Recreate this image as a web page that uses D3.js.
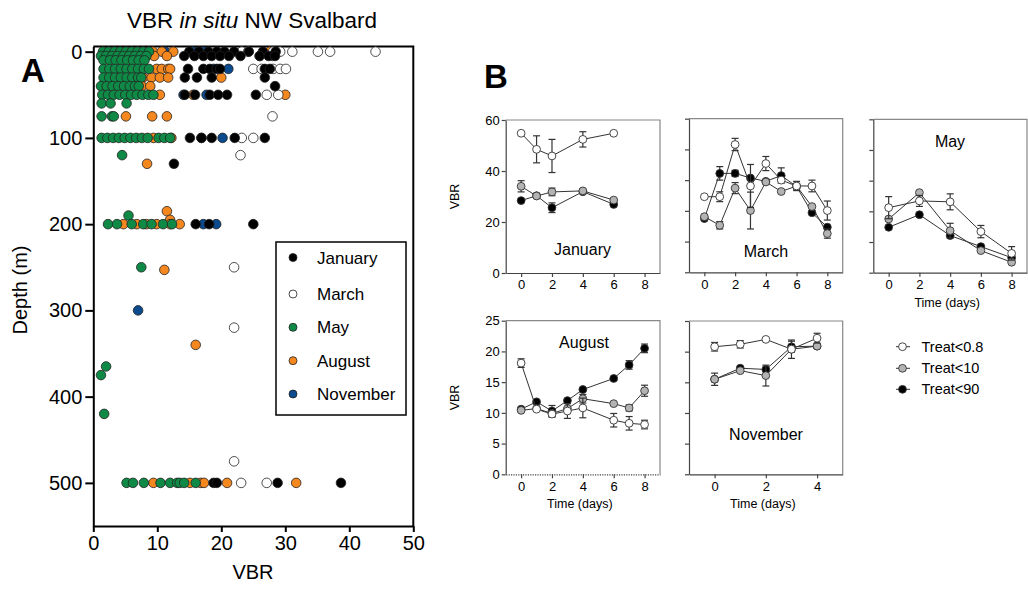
<!DOCTYPE html>
<html>
<head>
<meta charset="utf-8">
<script src="https://cdn.jsdelivr.net/npm/d3@7"></script>
<style>
  body { margin: 0; background: #fff; }
  text { font-family: "Liberation Sans", Arial, sans-serif; fill: #000; }
</style>
</head>
<body>
<script>

// ---- Panel A: in situ VBR, [depth (m), VBR] ----
const janA = [
  [0, 15.0], [0, 16.5], [0, 18.0], [0, 19.3], [0, 20.5], [0, 22.0], [0, 24.3], [0, 26.5], [0, 28.5],
  [5, 14.2], [5, 15.8], [5, 17.2], [5, 18.5], [5, 19.8], [5, 21.2], [5, 23.0], [5, 26.0], [5, 27.4], [5, 28.4],
  [20, 14.8], [20, 17.2], [20, 18.2], [20, 19.3], [20, 19.8], [20, 26.8], [20, 27.6],
  [30, 14.3], [30, 16.2], [30, 18.5], [30, 26.8],
  [40, 28.4],
  [50, 14.3], [50, 15.9], [50, 18.2], [50, 19.5], [50, 20.9], [50, 25.4],
  [100, 15.1], [100, 16.9], [100, 18.5], [100, 22.1], [100, 26.8],
  [130, 12.6],
  [200, 16.0], [200, 18.1], [200, 25.0],
  [500, 18.8], [500, 19.3], [500, 28.8], [500, 38.7]
];
const marA = [
  [0, 23.2], [0, 24.2], [0, 28.1], [0, 29.2], [0, 31.1], [0, 35.1], [0, 37.0], [0, 44.1],
  [5, 26.0], [5, 28.0],
  [20, 25.0], [20, 26.3], [20, 28.1], [20, 29.2], [20, 30.1],
  [50, 27.1], [50, 28.9],
  [75, 28.0],
  [100, 23.2], [100, 25.0],
  [120, 23.0],
  [250, 22.0],
  [320, 22.0],
  [475, 22.0],
  [500, 23.1], [500, 27.1]
];
const mayA = [
  [0, 1.5], [0, 2.4], [0, 3.3], [0, 4.2], [0, 5.1], [0, 6.0], [0, 6.9], [0, 7.8], [0, 8.7],
  [5, 1.2], [5, 2.0], [5, 2.9], [5, 3.8], [5, 4.7], [5, 5.6], [5, 6.5], [5, 7.4], [5, 8.3],
  [10, 1.6], [10, 2.6], [10, 3.5], [10, 4.4], [10, 5.3], [10, 6.2], [10, 7.1], [10, 8.0],
  [20, 1.6], [20, 2.5], [20, 3.4], [20, 4.3], [20, 5.2], [20, 6.1], [20, 7.0], [20, 7.9], [20, 8.7],
  [30, 1.6], [30, 2.5], [30, 3.4], [30, 4.3], [30, 5.2], [30, 6.1], [30, 7.0], [30, 7.5],
  [40, 1.2], [40, 2.1], [40, 3.0], [40, 3.9], [40, 4.8], [40, 5.7], [40, 6.5], [40, 7.1],
  [50, 1.4], [50, 2.3], [50, 3.2], [50, 4.1], [50, 5.0], [50, 5.9], [50, 6.8], [50, 7.7], [50, 8.6], [50, 9.4],
  [60, 1.3], [60, 2.7], [60, 5.2],
  [75, 1.3], [75, 2.9], [75, 3.2],
  [100, 1.3], [100, 2.2], [100, 3.1], [100, 4.0], [100, 4.9], [100, 5.8], [100, 6.7], [100, 7.6], [100, 8.5], [100, 10.2], [100, 11.1], [100, 12.0],
  [120, 4.5],
  [190, 5.5],
  [200, 2.3], [200, 3.7], [200, 6.0], [200, 7.8], [200, 9.1], [200, 10.9], [200, 12.3],
  [250, 7.5],
  [365, 2.0], [375, 1.2], [420, 1.7],
  [500, 5.2], [500, 6.2], [500, 7.9], [500, 10.5], [500, 12.0], [500, 13.1], [500, 13.5], [500, 14.2], [500, 16.0]
];
const augA = [
  [0, 9.3], [0, 10.7], [0, 12.5], [0, 27.6],
  [5, 8.0], [5, 9.5], [5, 11.5],
  [20, 9.9], [20, 10.7], [20, 11.7], [20, 12.0],
  [30, 7.8], [30, 9.1], [30, 10.4], [30, 11.7], [30, 20.0],
  [40, 7.6], [40, 8.9],
  [50, 10.4], [50, 15.6], [50, 30.0],
  [75, 5.1], [75, 9.2], [75, 11.5],
  [100, 9.4], [100, 12.2],
  [130, 8.4],
  [185, 11.5], [195, 12.0],
  [200, 4.7], [200, 6.8], [200, 8.3], [200, 9.9], [200, 12.0], [200, 13.5],
  [253, 11.1],
  [340, 16.0],
  [500, 9.4], [500, 15.1], [500, 16.8], [500, 17.3], [500, 20.9], [500, 31.7]
];
const novA = [
  [0, 11.2], [0, 15.6], [0, 17.2],
  [20, 18.8], [20, 21.1],
  [50, 14.1], [50, 17.7],
  [100, 16.9], [100, 20.2],
  [200, 17.2], [200, 19.2],
  [300, 7.0]
];
const monthsA = ['January', 'March', 'May', 'August', 'November'];
const depthTicks = [0, 100, 200, 300, 400, 500];
const vbrTicks = [0, 10, 20, 30, 40, 50];

// ---- Panel B: incubations, mean VBR with error ----
const treatments = ['Treat<0.8', 'Treat<10', 'Treat<90'];

const janDays = [0, 1, 2, 4, 6];
const janT08 = [54.8, 48.5, 45.9, 52.4, 54.8], janT08Err = [0, 5.3, 6.5, 3.0, 0];
const janT10 = [34.0, 30.2, 31.8, 32.2, 28.6], janT10Err = [2.2, 0, 1.5, 0, 0];
const janT90 = [28.4, 30.3, 25.6, 31.9, 26.9], janT90Err = [0, 0, 1.9, 0, 0];

const marDays = [0, 1, 2, 3, 4, 5, 6, 7, 8];
const marT08 = [24.6, 24.6, 41.6, 28.1, 35.4, 30.0, 28.1, 28.1, 20.1], marT08Err = [0, 1.6, 2.0, 7.0, 2.3, 0, 1.5, 1.9, 3.1];
const marT10 = [18.1, 15.3, 27.4, 20.1, 29.4, 26.3, 28.1, 21.4, 12.6], marT10Err = [0, 1.2, 1.8, 6.0, 0, 0, 0, 0, 1.5];
const marT90 = [17.5, 32.2, 32.2, 30.7, 29.6, 31.5, 27.9, 19.4, 14.7], marT90Err = [0, 2.2, 1.0, 0, 0, 2.5, 0, 0, 0];

const mayDays = [0, 2, 4, 6, 8];
const mayT08 = [21.2, 23.4, 23.1, 13.4, 6.3], mayT08Err = [3.6, 1.8, 2.6, 2.0, 2.2];
const mayT10 = [17.5, 26.1, 13.7, 7.2, 3.4], mayT10Err = [0, 0, 2.4, 0, 0];
const mayT90 = [14.8, 18.9, 12.1, 8.5, 4.9], mayT90Err = [0, 0, 0, 0, 0];

const augDays = [0, 1, 2, 3, 4, 6, 7, 8];
const augT08 = [18.1, 10.6, 9.8, 10.3, 10.8, 8.8, 8.3, 8.1], augT08Err = [0.7, 0, 0.5, 1.2, 1.6, 1.1, 1.1, 0.7];
const augT10 = [10.4, 10.7, 9.9, 10.7, 12.3, 11.5, 10.8, 13.6], augT10Err = [0, 0, 0, 0, 0.7, 0, 0.5, 0.9];
const augT90 = [10.6, 11.8, 10.3, 12.0, 13.8, 15.6, 17.8, 20.5], augT90Err = [0, 0, 0.9, 0, 0, 0, 0.7, 0.7];

const novDays = [0, 1, 2, 3, 4];
const novT08 = [20.8, 21.2, 22.0, 20.4, 22.2], novT08Err = [0.7, 0.6, 0, 0, 0.8];
const novT10 = [15.5, 16.9, 16.1, 20.4, 20.9], novT10Err = [0, 0, 1.7, 1.5, 0];
const novT90 = [15.5, 17.3, 17.1, 20.8, 20.9], novT90Err = [1.0, 0, 0, 0.9, 0];


const WIDTH = 1028, HEIGHT = 590;
const svg = d3.select('body').append('svg')
  .attr('width', WIDTH)
  .attr('height', HEIGHT);

// ================= Panel A =================
const monthFill = {
  January: '#000',
  March: '#fff',
  May: '#0f8a46',
  August: '#f5871f',
  November: '#0b4a8c'
};
const monthData = { January: janA, March: marA, May: mayA, August: augA, November: novA };

const xA = d3.scaleLinear().domain([0, 50]).range([93.3, 413.3]);
const yA = d3.scaleLinear().domain([-6, 550]).range([46.5, 526]);

const gA = svg.append('g');

// frame top / right
gA.append('path')
  .attr('d', `M${xA(0)},${yA(-6)}H${xA(50)}V${yA(550)}`)
  .attr('fill', 'none').attr('stroke', '#000').attr('stroke-width', 2);

// points, drawn bottom-up: November first, January last
monthsA.slice().reverse().forEach((m) => {
  gA.append('g').selectAll('circle')
    .data(monthData[m])
    .enter().append('circle')
      .attr('cx', (d) => xA(d[1]))
      .attr('cy', (d) => yA(d[0]))
      .attr('r', 4.8)
      .attr('fill', monthFill[m])
      .attr('stroke', '#222')
      .attr('stroke-width', 0.8);
});

const axA_y = gA.append('g')
  .attr('transform', `translate(${xA(0)},0)`)
  .call(d3.axisLeft(yA).tickValues(depthTicks).tickSize(8).tickSizeOuter(0).tickPadding(3));
const axA_x = gA.append('g')
  .attr('transform', `translate(0,${yA(550)})`)
  .call(d3.axisBottom(xA).tickValues(vbrTicks).tickSize(6).tickSizeOuter(0).tickPadding(4));
[axA_y, axA_x].forEach((ax) => {
  ax.select('.domain').attr('stroke-width', 2);
  ax.selectAll('.tick line').attr('stroke-width', 2);
  ax.selectAll('.tick text').style('font-size', '20px').attr('fill', '#000');
});

gA.append('text')
  .attr('x', 253).attr('y', 579)
  .attr('text-anchor', 'middle').style('font-size', '20px')
  .text('VBR');

gA.append('text')
  .attr('transform', 'translate(27,290) rotate(-90)')
  .attr('text-anchor', 'middle').style('font-size', '20px')
  .text('Depth (m)');

const title = gA.append('text')
  .attr('x', 252).attr('y', 28)
  .attr('text-anchor', 'middle').style('font-size', '22.5px');
title.append('tspan').text('VBR ');
title.append('tspan').style('font-style', 'italic').text('in situ');
title.append('tspan').text(' NW Svalbard');

// legend A
const legA = gA.append('g');
legA.append('rect')
  .attr('x', 276).attr('y', 242).attr('width', 130).attr('height', 173)
  .attr('fill', '#fff').attr('stroke', '#000').attr('stroke-width', 1.5);
const legRows = [257.5, 294, 327.3, 360.7, 394];
monthsA.forEach((m, i) => {
  legA.append('circle')
    .attr('cx', 293).attr('cy', legRows[i]).attr('r', 4)
    .attr('fill', monthFill[m]).attr('stroke', '#222').attr('stroke-width', 0.8);
  legA.append('text')
    .attr('x', 317).attr('y', legRows[i] + 6)
    .style('font-size', '17px')
    .text(m);
});

// panel letters
svg.append('text').attr('x', 21).attr('y', 82)
  .style('font-size', '33px').style('font-weight', 'bold').text('A');
svg.append('text').attr('x', 484).attr('y', 88)
  .style('font-size', '33px').style('font-weight', 'bold').text('B');

// ================= Panel B =================
const treatFill = ['#fff', '#b3b3b3', '#000'];

const panels = [
  { label: 'January', days: janDays, vals: [janT08, janT10, janT90], errs: [janT08Err, janT10Err, janT90Err],
    xr: [505.7, 660], xd: [-1, 9], yr: [273, 120], yd: [0, 60], xt: [0, 2, 4, 6, 8], yt: [0, 20, 40, 60],
    yLabels: true, yTitle: true, xTitle: false, lx: 582.5, ly: 255 },
  { label: 'March', days: marDays, vals: [marT08, marT10, marT90], errs: [marT08Err, marT10Err, marT90Err],
    xr: [689, 842.7], xd: [-1, 9], yr: [272.3, 118.7], yd: [0, 50], xt: [0, 2, 4, 6, 8], yt: [0, 10, 20, 30, 40, 50],
    yLabels: false, yTitle: false, xTitle: false, lx: 766, ly: 256.5 },
  { label: 'May', days: mayDays, vals: [mayT08, mayT10, mayT90], errs: [mayT08Err, mayT10Err, mayT90Err],
    xr: [873.3, 1027], xd: [-1, 9], yr: [272.7, 119.3], yd: [0, 50], xt: [0, 2, 4, 6, 8], yt: [0, 10, 20, 30, 40, 50],
    yLabels: false, yTitle: false, xTitle: true, lx: 950, ly: 146.5 },
  { label: 'August', days: augDays, vals: [augT08, augT10, augT90], errs: [augT08Err, augT10Err, augT90Err],
    xr: [505.7, 660], xd: [-1, 9], yr: [474.3, 320.7], yd: [0, 25], xt: [0, 2, 4, 6, 8], yt: [0, 5, 10, 15, 20, 25],
    yLabels: true, yTitle: true, xTitle: true, lx: 584, ly: 347.5, dottedX: true },
  { label: 'November', days: novDays, vals: [novT08, novT10, novT90], errs: [novT08Err, novT10Err, novT90Err],
    xr: [689, 842.7], xd: [-1, 5], yr: [474.3, 321], yd: [0, 25], xt: [0, 2, 4], yt: [0, 5, 10, 15, 20, 25],
    yLabels: false, yTitle: false, xTitle: true, lx: 766, ly: 439.5 }
];

panels.forEach((p) => {
  const x = d3.scaleLinear().domain(p.xd).range(p.xr);
  const y = d3.scaleLinear().domain(p.yd).range(p.yr);
  const g = svg.append('g');

  // frame
  g.append('path')
    .attr('d', `M${p.xr[0]},${p.yr[1]}H${p.xr[1]}V${p.yr[0]}`)
    .attr('fill', 'none').attr('stroke', '#888').attr('stroke-width', 1.2);

  const ay = g.append('g')
    .attr('transform', `translate(${p.xr[0]},0)`)
    .call(d3.axisLeft(y).tickValues(p.yt).tickSize(4).tickSizeOuter(0).tickPadding(2)
      .tickFormat(p.yLabels ? d3.format('d') : () => ''));
  const ax = g.append('g')
    .attr('transform', `translate(0,${p.yr[0]})`)
    .call(d3.axisBottom(x).tickValues(p.xt).tickSize(4).tickSizeOuter(0).tickPadding(3)
      .tickFormat(d3.format('d')));
  [ay, ax].forEach((a) => {
    a.select('.domain').attr('stroke', '#444').attr('stroke-width', 1.2);
    a.selectAll('.tick line').attr('stroke', '#444').attr('stroke-width', 1.2);
    a.selectAll('.tick text').style('font-size', '13px').attr('fill', '#000');
  });
  if (p.dottedX) ax.select('.domain').attr('stroke-dasharray', '1.2,1.2');

  // series: Treat<90 underneath, Treat<0.8 on top
  [2, 1, 0].forEach((s) => {
    const pts = p.days.map((d, i) => ({ day: d, v: p.vals[s][i], e: p.errs[s][i] }));
    const sg = g.append('g');
    sg.append('path')
      .datum(pts)
      .attr('fill', 'none').attr('stroke', '#333').attr('stroke-width', 1)
      .attr('d', d3.line().x((d) => x(d.day)).y((d) => y(d.v)));
    const eb = sg.selectAll('.err')
      .data(pts.filter((d) => d.e > 0))
      .enter().append('g').attr('class', 'err')
      .attr('stroke', '#333').attr('stroke-width', 1.2);
    eb.append('line')
      .attr('x1', (d) => x(d.day)).attr('x2', (d) => x(d.day))
      .attr('y1', (d) => y(d.v - d.e)).attr('y2', (d) => y(d.v + d.e));
    eb.append('line')
      .attr('x1', (d) => x(d.day) - 3.5).attr('x2', (d) => x(d.day) + 3.5)
      .attr('y1', (d) => y(d.v + d.e)).attr('y2', (d) => y(d.v + d.e));
    eb.append('line')
      .attr('x1', (d) => x(d.day) - 3.5).attr('x2', (d) => x(d.day) + 3.5)
      .attr('y1', (d) => y(d.v - d.e)).attr('y2', (d) => y(d.v - d.e));
    sg.selectAll('circle')
      .data(pts)
      .enter().append('circle')
        .attr('cx', (d) => x(d.day)).attr('cy', (d) => y(d.v))
        .attr('r', 3.9)
        .attr('fill', treatFill[s]).attr('stroke', '#333').attr('stroke-width', 0.9);
  });

  g.append('text')
    .attr('x', p.lx).attr('y', p.ly)
    .attr('text-anchor', 'middle').style('font-size', '16px')
    .text(p.label);

  if (p.yTitle) {
    g.append('text')
      .attr('transform', `translate(459,${(p.yr[0] + p.yr[1]) / 2}) rotate(-90)`)
      .attr('text-anchor', 'middle').style('font-size', '12.5px')
      .text('VBR');
  }
  if (p.xTitle) {
    g.append('text')
      .attr('x', x(p.xd[0] + (p.xd[1] - p.xd[0]) / 2) - 3).attr('y', p.yr[0] + 34)
      .attr('text-anchor', 'middle').style('font-size', '12.5px')
      .text('Time (days)');
  }
});

// legend B
const legB = svg.append('g');
const legBRows = [346.7, 368.3, 389.3];
treatments.forEach((t, i) => {
  legB.append('line')
    .attr('x1', 896).attr('x2', 910).attr('y1', legBRows[i]).attr('y2', legBRows[i])
    .attr('stroke', '#333').attr('stroke-width', 1);
  legB.append('circle')
    .attr('cx', 902.5).attr('cy', legBRows[i]).attr('r', 3.9)
    .attr('fill', treatFill[i]).attr('stroke', '#333').attr('stroke-width', 0.9);
  legB.append('text')
    .attr('x', 921.5).attr('y', legBRows[i] + 5)
    .style('font-size', '14.5px')
    .text(t);
});

</script>
</body>
</html>
